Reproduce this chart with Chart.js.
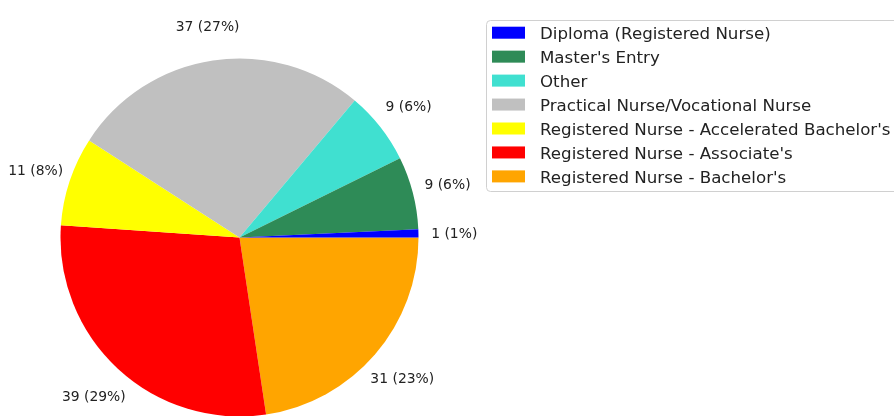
<!DOCTYPE html>
<html>
<head>
<meta charset="utf-8">
<script src="https://cdn.jsdelivr.net/npm/chart.js@4/dist/chart.umd.min.js"></script>
<style>
  html, body { margin: 0; padding: 0; background: #ffffff; }
  #wrap { width: 894px; height: 416px; position: relative; overflow: hidden; }
</style>
</head>
<body>
<div id="wrap"><canvas id="c" width="894" height="416"></canvas></div>
<script>
// ---- data ----
const categories = [
  "Diploma (Registered Nurse)",
  "Master's Entry",
  "Other",
  "Practical Nurse/Vocational Nurse",
  "Registered Nurse - Accelerated Bachelor's",
  "Registered Nurse - Associate's",
  "Registered Nurse - Bachelor's"
];
const counts = [1, 9, 9, 37, 11, 39, 31];
const percents = [1, 6, 6, 27, 8, 29, 23];
const sliceColors = ["#0000ff", "#2e8b57", "#40e0d0", "#c0c0c0", "#ffff00", "#ff0000", "#ffa500"];

// matplotlib draws counter-clockwise from 3 o'clock; Chart.js draws clockwise,
// so feed the slices in reverse order starting at 3 o'clock.
const n = categories.length;
const order = categories.map((_, i) => n - 1 - i);

const FONT = "'DejaVu Sans', 'Liberation Sans', sans-serif";

const sliceLabels = {
  id: 'sliceLabels',
  afterDatasetsDraw(chart) {
    const ctx = chart.ctx;
    const meta = chart.getDatasetMeta(0);
    ctx.save();
    ctx.font = '13.9px ' + FONT;
    ctx.fillStyle = '#222222';
    ctx.textAlign = 'center';
    ctx.textBaseline = 'middle';
    meta.data.forEach((arc, i) => {
      const k = order[i];
      const p = arc.getProps(['x', 'y', 'startAngle', 'endAngle', 'outerRadius'], true);
      const mid = (p.startAngle + p.endAngle) / 2;
      const d = p.outerRadius * 1.2;
      const tx = p.x + Math.cos(mid) * d;
      const ty = p.y + Math.sin(mid) * d + 2;
      ctx.fillText(counts[k] + ' (' + percents[k] + '%)', tx, ty);
    });
    ctx.restore();
  }
};

const boxLegend = {
  id: 'boxLegend',
  afterDraw(chart) {
    const ctx = chart.ctx;
    ctx.save();
    // frame
    const left = 486.5, top = 20.5, right = 920, bottom = 191.5, rad = 4;
    ctx.beginPath();
    ctx.moveTo(left + rad, top);
    ctx.lineTo(right, top);
    ctx.lineTo(right, bottom);
    ctx.lineTo(left + rad, bottom);
    ctx.arcTo(left, bottom, left, bottom - rad, rad);
    ctx.lineTo(left, top + rad);
    ctx.arcTo(left, top, left + rad, top, rad);
    ctx.closePath();
    ctx.fillStyle = 'rgba(255,255,255,0.8)';
    ctx.fill();
    ctx.strokeStyle = '#d0d0d0';
    ctx.lineWidth = 1;
    ctx.stroke();
    // entries
    ctx.font = '16.67px ' + FONT;
    ctx.textAlign = 'left';
    ctx.textBaseline = 'alphabetic';
    categories.forEach((name, i) => {
      const cy = 32.7 + i * 23.95;
      ctx.fillStyle = sliceColors[i];
      ctx.fillRect(492, cy - 6, 33, 12);
      ctx.fillStyle = '#222222';
      ctx.fillText(name, 540, cy + 6.5);
    });
    ctx.restore();
  }
};

new Chart(document.getElementById('c'), {
  type: 'pie',
  data: {
    labels: order.map(k => categories[k]),
    datasets: [{
      data: order.map(k => counts[k]),
      backgroundColor: order.map(k => sliceColors[k]),
      borderWidth: 0,
      hoverOffset: 0,
      offset: 0
    }]
  },
  options: {
    responsive: false,
    animation: false,
    rotation: 90,
    radius: 179,
    layout: { padding: { left: 59, right: 474, top: 59, bottom: 0 } },
    plugins: {
      legend: { display: false },
      tooltip: { enabled: false },
      title: { display: false }
    }
  },
  plugins: [sliceLabels, boxLegend]
});
</script>
</body>
</html>
